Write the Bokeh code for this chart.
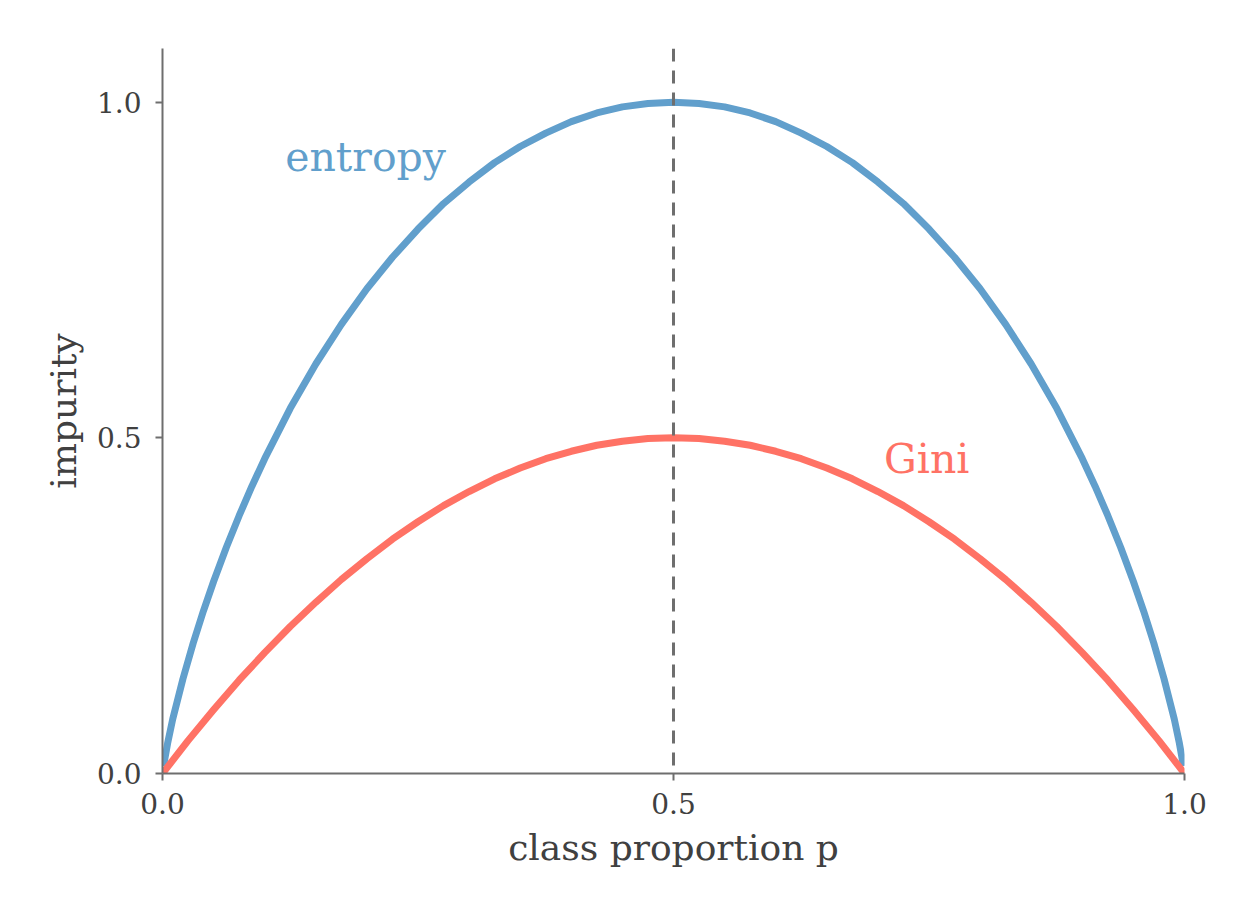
from bokeh.plotting import figure
from bokeh.models import Range1d, FixedTicker, PrintfTickFormatter, Span, Label
from bokeh.embed import file_html
from bokeh.resources import INLINE

# entropy curve
entropy_p = [0.001, 0.005, 0.01, 0.02, 0.03, 0.04, 0.05, 0.0625, 0.075, 0.0875, 0.1, 0.125, 0.15, 0.175,
             0.2, 0.225, 0.25, 0.275, 0.3, 0.325, 0.35, 0.375, 0.4, 0.425, 0.45, 0.475,
             0.5, 0.525, 0.55, 0.575, 0.6, 0.625, 0.65, 0.675, 0.7, 0.725, 0.75, 0.775,
             0.8, 0.825, 0.85, 0.875, 0.9, 0.9125, 0.925, 0.9375, 0.95, 0.96, 0.97, 0.98, 0.99, 0.995, 0.999]
entropy_vals = [0.011, 0.045, 0.081, 0.141, 0.194, 0.242, 0.286, 0.337, 0.384, 0.428, 0.469, 0.544, 0.610, 0.669,
                0.722, 0.769, 0.811, 0.849, 0.881, 0.910, 0.934, 0.954, 0.971, 0.984, 0.993, 0.998,
                1.0, 0.998, 0.993, 0.984, 0.971, 0.954, 0.934, 0.910, 0.881, 0.849, 0.811, 0.769,
                0.722, 0.669, 0.610, 0.544, 0.469, 0.428, 0.384, 0.337, 0.286, 0.242, 0.194, 0.141, 0.081, 0.045, 0.011]

# gini curve
gini_p = [0.0, 0.025, 0.05, 0.075, 0.1, 0.125, 0.15, 0.175, 0.2, 0.225, 0.25, 0.275, 0.3, 0.325,
          0.35, 0.375, 0.4, 0.425, 0.45, 0.475, 0.5, 0.525, 0.55, 0.575, 0.6, 0.625, 0.65, 0.675,
          0.7, 0.725, 0.75, 0.775, 0.8, 0.825, 0.85, 0.875, 0.9, 0.925, 0.95, 0.975, 1.0]
gini_vals = [0.0, 0.049, 0.095, 0.139, 0.18, 0.219, 0.255, 0.289, 0.32, 0.349, 0.375, 0.399, 0.42, 0.439,
             0.455, 0.469, 0.48, 0.489, 0.495, 0.499, 0.5, 0.499, 0.495, 0.489, 0.48, 0.469, 0.455, 0.439,
             0.42, 0.399, 0.375, 0.349, 0.32, 0.289, 0.255, 0.219, 0.18, 0.139, 0.095, 0.049, 0.0]

x_ticks = [0.0, 0.5, 1.0]
y_ticks = [0.0, 0.5, 1.0]

serif = "DejaVu Serif"
blue = "#619fcc"
red = "#ff7265"
gray = "#6e6e6e"
dark = "#404040"

p = figure(width=1248, height=908, output_backend="svg", toolbar_location=None,
           x_range=Range1d(0, 1), y_range=Range1d(0, 1.08),
           min_border_left=162, min_border_right=64, min_border_top=48, min_border_bottom=135)
p.outline_line_color = None
p.xgrid.visible = False
p.ygrid.visible = False
p.background_fill_color = "white"
p.border_fill_color = "white"

for ax in (p.xaxis, p.yaxis):
    ax.axis_line_color = gray
    ax.axis_line_width = 2
    ax.major_tick_line_color = gray
    ax.major_tick_line_width = 2
    ax.major_tick_in = 0
    ax.major_tick_out = 7
    ax.minor_tick_line_color = None
    ax.major_label_text_font = serif
    ax.major_label_text_font_size = "28px"
    ax.major_label_text_color = dark
    ax.formatter = PrintfTickFormatter(format="%.1f")
    ax.axis_label_text_font = serif
    ax.axis_label_text_font_size = "36px"
    ax.axis_label_text_font_style = "normal"
    ax.axis_label_text_color = dark
p.xaxis.ticker = FixedTicker(ticks=x_ticks)
p.yaxis.ticker = FixedTicker(ticks=y_ticks)
p.xaxis.major_label_standoff = 12
p.yaxis.major_label_standoff = 14
p.xaxis.axis_label = "class proportion p"
p.yaxis.axis_label = "impurity"
p.xaxis.axis_label_standoff = 10
p.yaxis.axis_label_standoff = 10

# dashed line at p = 0.5
p.add_layout(Span(location=0.5, dimension="height", line_color=gray,
                  line_width=3, line_dash="13 9"))

p.line(entropy_p, entropy_vals, line_color=blue, line_width=7, line_join="round")
p.line(gini_p, gini_vals, line_color=red, line_width=7, line_join="round")

p.add_layout(Label(x=0.12, y=0.918, text="entropy", text_font=serif, text_font_size="41px",
                   text_color=blue, text_baseline="alphabetic"))
p.add_layout(Label(x=0.706, y=0.468, text="Gini", text_font=serif, text_font_size="41px",
                   text_color=red, text_baseline="alphabetic"))

open("out.html", "w").write(file_html(p, INLINE))
